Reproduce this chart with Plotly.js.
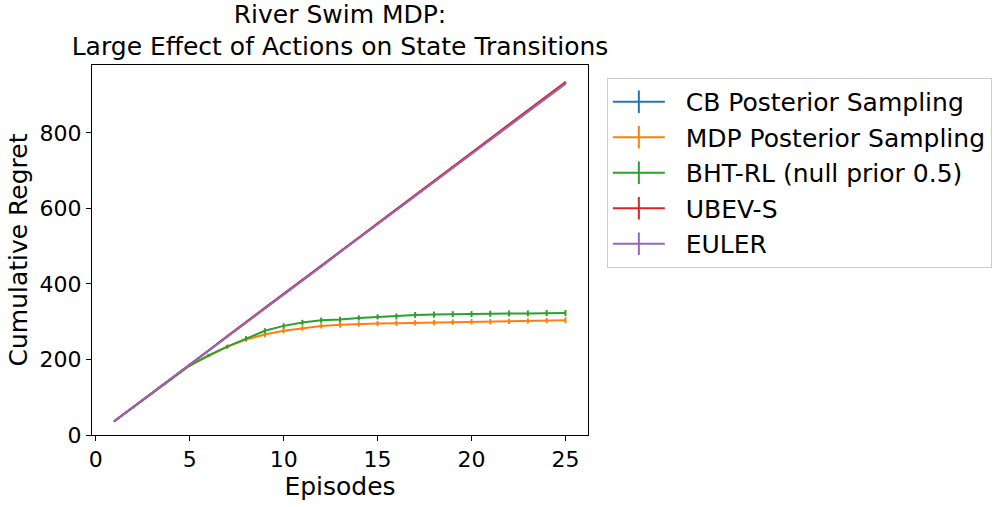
<!DOCTYPE html>
<html>
<head>
<meta charset="utf-8">
<script src="https://cdn.plot.ly/plotly-3.0.1.min.js"></script>
<style>html,body{margin:0;padding:0;background:#fff;}</style>
</head>
<body>
<div id="chart" style="width:1006px;height:507px;"></div>
<script>
const episodes = [1,2,3,4,5,6,7,8,9,10,11,12,13,14,15,16,17,18,19,20,21,22,23,24,25];
const seriesNames = ["CB Posterior Sampling","MDP Posterior Sampling","BHT-RL (null prior 0.5)","UBEV-S","EULER"];
const colors = ["#1f77b4","#ff7f0e","#2ca02c","#d62728","#9467bd"];

const cbPS   = [37,74,112,149,186,224,261,298,336,373,410,447,485,522,559,597,634,671,709,746,783,820,858,895,932];
const mdpPS  = [37,73,110,147,184,210,234,253,266,276,283,289,292,294,295,296,297,298,299,300,300,301,302,303,304];
const bhtRL  = [37,73,110,147,184,211,234,256,276,289,298,304,306,310,313,314,318,319,320,320,321,322,322,323,323];
const ubevS  = [37,74,112,149,187,224,262,299,336,374,411,449,486,523,561,598,636,673,710,748,785,823,860,897,935];
const euler  = [37,74,111,148,186,223,260,297,335,372,409,446,484,521,558,595,633,670,707,744,781,819,856,893,930];

const cbErr  = [1,1,1,1,1,1,1,1,1,1,1,1,1,1,1,1,1,1,1,1,1,1,1,1,1];
const mdpErr = [1,2,2,2,3,4,5,6,7,7,7,7,7,7,7,7,7,7,7,7,7,7,7,7,8];
const bhtErr = [1,2,2,2,3,4,5,6,7,7,7,7,7,7,7,8,8,8,8,8,8,8,8,8,8];
const ubevErr= [1,1,1,1,1,1,1,1,1,1,1,1,1,1,1,1,1,1,1,1,1,1,1,1,1];
const eulErr = [1,1,1,1,1,1,1,1,1,1,1,1,1,1,1,1,1,1,1,1,1,1,1,1,1];

const allY = [cbPS, mdpPS, bhtRL, ubevS, euler];
const allErr = [cbErr, mdpErr, bhtErr, ubevErr, eulErr];

const traces = [];
for (let i = 0; i < allY.length; i++) {
  traces.push({
    x: episodes, y: allY[i], type: 'scatter', mode: 'lines',
    line: {color: colors[i], width: 2},
    error_y: {type: 'data', array: allErr[i], visible: true, color: colors[i], thickness: 2, width: 0},
    showlegend: false, hoverinfo: 'skip'
  });
}
for (let i = 0; i < allY.length; i++) {
  traces.push({
    x: [null], y: [null], type: 'scatter', mode: 'lines+markers',
    name: '&nbsp;&nbsp;' + seriesNames[i],
    line: {color: colors[i], width: 2},
    marker: {symbol: 'line-ns-open', size: 24, color: colors[i], line: {color: colors[i], width: 2}},
    showlegend: true
  });
}

const font = {family: 'DejaVu Sans, sans-serif', color: '#000'};
const layout = {
  width: 1006, height: 507,
  margin: {l: 92, r: 418, t: 65, b: 72, pad: 0},
  paper_bgcolor: '#fff', plot_bgcolor: '#fff',
  font: Object.assign({size: 22}, font),
  title: {
    text: 'River Swim MDP:<br>Large Effect of Actions on State Transitions',
    font: Object.assign({size: 25}, font),
    x: 0.5, xanchor: 'center', xref: 'paper',
    y: 0.955, yref: 'container', yanchor: 'top'
  },
  xaxis: {
    range: [-0.2, 26.2], tickmode: 'linear', tick0: 0, dtick: 5,
    showgrid: false, zeroline: false, showline: true, mirror: true,
    linecolor: '#000', linewidth: 1, ticks: 'outside', ticklen: 5, tickcolor: '#000', tickwidth: 1,
    tickfont: Object.assign({size: 22}, font),
    title: {text: 'Episodes', font: Object.assign({size: 25}, font), standoff: 3}
  },
  yaxis: {
    range: [0, 980], tickmode: 'linear', tick0: 0, dtick: 200,
    showgrid: false, zeroline: false, showline: true, mirror: true,
    linecolor: '#000', linewidth: 1, ticks: 'outside', ticklen: 5, tickcolor: '#000', tickwidth: 1,
    tickfont: Object.assign({size: 22}, font),
    title: {text: 'Cumulative Regret', font: Object.assign({size: 25}, font), standoff: 4}
  },
  legend: {
    x: 1.038, xanchor: 'left', y: 0.965, yanchor: 'top',
    bgcolor: '#fff', bordercolor: '#cccccc', borderwidth: 1,
    font: Object.assign({size: 25}, font),
    itemwidth: 52, itemsizing: 'trace', tracegroupgap: 0
  },
  showlegend: true
};

Plotly.newPlot('chart', traces, layout, {staticPlot: true, displayModeBar: false});
</script>
</body>
</html>
